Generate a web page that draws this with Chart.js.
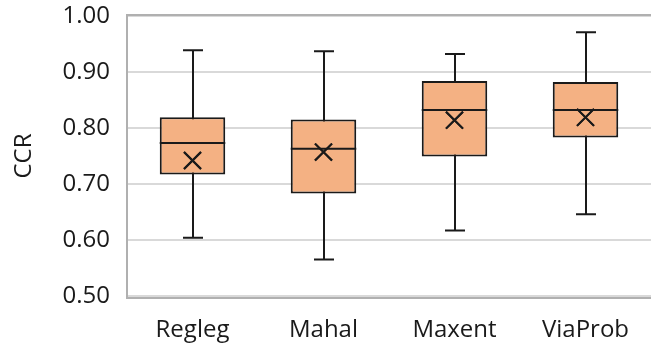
<!DOCTYPE html>
<html>
<head>
<meta charset="utf-8">
<script src="https://cdn.jsdelivr.net/npm/chart.js@4/dist/chart.umd.min.js"></script>
<style>
  html, body { margin: 0; padding: 0; background: #fff; }
  #wrap { width: 651px; height: 353px; position: relative; }
</style>
</head>
<body>
<div id="wrap"><canvas id="c"></canvas></div>
<script>
// ── Data ──
const categories = ['Regleg', 'Mahal', 'Maxent', 'ViaProb'];
const whiskerLow = [0.604, 0.565, 0.617, 0.646];
const q1 = [0.717, 0.683, 0.749, 0.783];
const median = [0.773, 0.763, 0.832, 0.832];
const q3 = [0.819, 0.815, 0.884, 0.882];
const whiskerHigh = [0.939, 0.937, 0.932, 0.971];
const mean = [0.742, 0.757, 0.814, 0.819];

const FONT = "'Open Sans', 'Noto Sans', sans-serif";
const INK = '#1a1a1a';

// ── Box plot bits around the floating bars ──
const boxParts = {
  id: 'boxParts',
  beforeDatasetsDraw(chart) {
    const { ctx, scales: { x, y } } = chart;
    ctx.save();
    ctx.strokeStyle = INK;
    ctx.lineWidth = 2;
    categories.forEach((c, i) => {
      const cx = Math.round(x.getPixelForValue(i));
      const top = y.getPixelForValue(whiskerHigh[i]);
      const bot = y.getPixelForValue(whiskerLow[i]);
      ctx.beginPath();
      ctx.moveTo(cx, top); ctx.lineTo(cx, bot);
      ctx.moveTo(cx - 10, top); ctx.lineTo(cx + 10, top);
      ctx.moveTo(cx - 10, bot); ctx.lineTo(cx + 10, bot);
      ctx.stroke();
    });
    ctx.restore();
  },
  afterDatasetsDraw(chart) {
    const { ctx, scales: { y } } = chart;
    const bars = chart.getDatasetMeta(1).data;
    ctx.save();
    ctx.strokeStyle = INK;
    ctx.lineWidth = 2;
    bars.forEach((bar, i) => {
      const my = y.getPixelForValue(median[i]);
      ctx.beginPath();
      ctx.moveTo(bar.x - bar.width / 2, my);
      ctx.lineTo(bar.x + bar.width / 2, my);
      ctx.stroke();
    });
    ctx.restore();
    // mean markers on top of the median line
    chart.getDatasetMeta(0).data.forEach(p => p.draw(ctx));
  },
  afterDraw(chart) {
    const { ctx, chartArea: a } = chart;
    ctx.save();
    ctx.strokeStyle = '#b0b0b0';
    ctx.lineWidth = 2;
    ctx.strokeRect(a.left, a.top - 1, a.right - a.left + 2, a.bottom - a.top + 3);
    ctx.restore();
  }
};

new Chart(document.getElementById('c'), {
  type: 'bar',
  data: {
    labels: categories,
    datasets: [
      {
        type: 'line',
        label: 'Mean',
        data: mean,
        showLine: false,
        pointStyle: 'crossRot',
        pointRadius: 12,
        pointBorderColor: INK,
        pointBorderWidth: 2,
        order: 0
      },
      {
        label: 'IQR',
        data: q1.map((v, i) => [v, q3[i]]),
        backgroundColor: '#f4b183',
        borderColor: INK,
        borderWidth: 2,
        borderSkipped: false,
        categoryPercentage: 1,
        barPercentage: 0.5,
        order: 1
      }
    ]
  },
  options: {
    responsive: true,
    maintainAspectRatio: false,
    animation: false,
    layout: { autoPadding: false, padding: { top: 16, right: 0, left: 0, bottom: 0 } },
    plugins: { legend: { display: false }, tooltip: { enabled: false } },
    scales: {
      x: {
        grid: { display: false, drawTicks: false },
        border: { display: false },
        ticks: { color: '#1a1a1a', font: { family: FONT, size: 24 }, padding: 20 },
        afterFit: s => { s.height = 57; s.paddingLeft = 0; s.paddingRight = 0; }
      },
      y: {
        min: 0.5,
        max: 1.0,
        ticks: {
          stepSize: 0.1,
          color: '#1a1a1a',
          font: { family: FONT, size: 24 },
          padding: 17,
          callback: v => v.toFixed(2)
        },
        grid: { color: '#d9d9d9', lineWidth: 2, drawTicks: false },
        border: { display: false },
        title: {
          display: true,
          text: 'CCR',
          color: '#1a1a1a',
          font: { family: FONT, size: 24 },
          padding: { top: 10, bottom: 0 }
        },
        afterFit: s => { s.width = 127; s.paddingTop = 0; s.paddingBottom = 0; }
      }
    }
  },
  plugins: [boxParts]
});
</script>
</body>
</html>
